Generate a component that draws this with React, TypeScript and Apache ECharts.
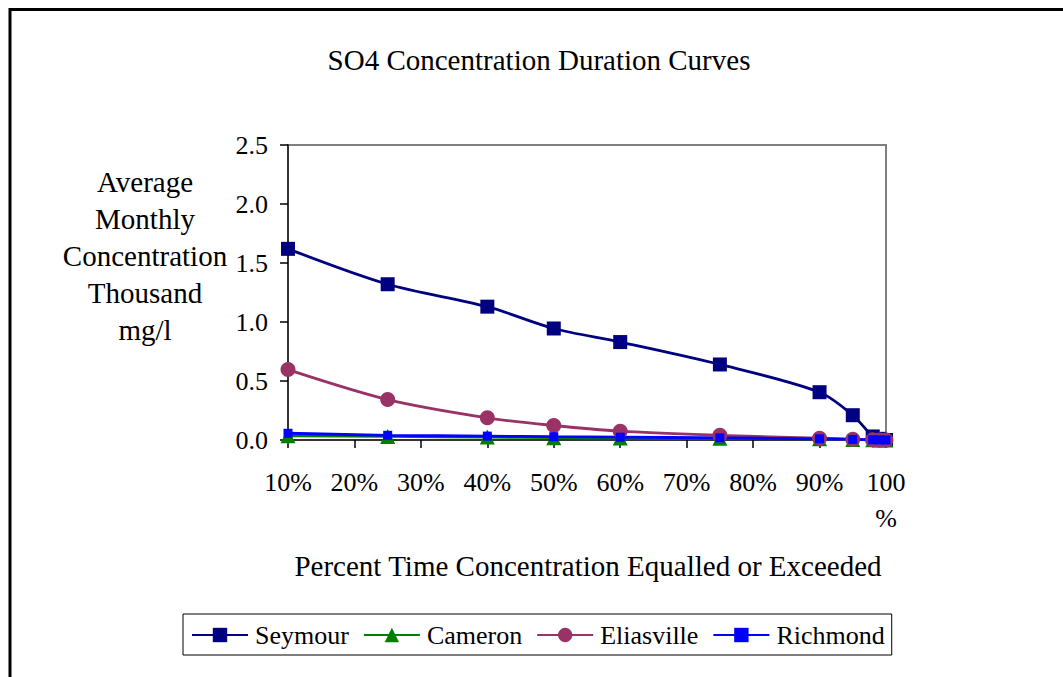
import React, { useEffect, useRef } from "react";
import * as echarts from "echarts";

const percentTime = [10, 25, 40, 50, 60, 75, 90, 95, 98, 99, 100];
const seymour = [1.62, 1.32, 1.13, 0.945, 0.83, 0.64, 0.405, 0.21, 0.03, 0.01, 0];
const cameron = [0.035, 0.03, 0.025, 0.02, 0.018, 0.015, 0.01, 0.005, 0.002, 0.001, 0];
const eliasville = [0.597, 0.343, 0.188, 0.123, 0.075, 0.04, 0.015, 0.006, 0.002, 0.001, 0];
const richmond = [0.057, 0.04, 0.033, 0.028, 0.024, 0.018, 0.01, 0.005, 0.002, 0.001, 0];

const titleText = "SO4 Concentration Duration Curves";
const yName = "Average\nMonthly\nConcentration\nThousand\nmg/l";
const xName = "Percent Time Concentration Equalled or Exceeded";

const FONT = "'Liberation Serif', 'Times New Roman', serif";

const pairs = (ys: number[]) => percentTime.map((x, i) => [x, ys[i]]);

export default function App() {
  const ref = useRef<HTMLDivElement>(null);
  useEffect(() => {
    if (!ref.current) return;
    const chart = echarts.init(ref.current, null, { renderer: "svg" });
    const mk = (name: string, data: number[], color: string, symbol: string, size: number) => ({
      name,
      type: "line",
      data: pairs(data),
      smooth: 0.3,
      symbol,
      symbolSize: size,
      clip: false,
      lineStyle: { color, width: 2.8 },
      itemStyle: { color, borderWidth: 0 },
      emphasis: { disabled: true },
    });
    chart.setOption({
      animation: false,
      backgroundColor: "#ffffff",
      textStyle: { fontFamily: FONT },
      grid: {
        left: 288,
        right: 1063 - 886,
        top: 145,
        bottom: 677 - 440,
        show: true,
        borderColor: "#808080",
        borderWidth: 2,
        backgroundColor: "transparent",
      },
      xAxis: {
        type: "value",
        min: 10,
        max: 100,
        interval: 10,
        axisLine: { show: true, lineStyle: { color: "#333", width: 2 } },
        axisTick: { show: true, length: 8, lineStyle: { color: "#000", width: 1.5 } },
        splitLine: { show: false },
        axisLabel: {
          margin: 24,
          fontFamily: FONT,
          fontSize: 26,
          lineHeight: 36,
          color: "#000",
          formatter: (v: number) => (v === 100 ? "100\n%" : v + "%"),
        },
      },
      yAxis: {
        type: "value",
        min: 0,
        max: 2.5,
        interval: 0.5,
        axisLine: { show: true, lineStyle: { color: "#333", width: 2 } },
        axisTick: { show: true, length: 8, lineStyle: { color: "#000", width: 1.5 } },
        splitLine: { show: false },
        axisLabel: {
          margin: 20,
          fontFamily: FONT,
          fontSize: 26,
          color: "#000",
          formatter: (v: number) => v.toFixed(1),
        },
      },
      legend: {
        left: 183,
        top: 614,
        orient: "horizontal",
        padding: [8, 7, 7, 8],
        itemGap: 14,
        itemWidth: 56,
        itemHeight: 18,
        borderColor: "#000",
        borderWidth: 1,
        backgroundColor: "#fff",
        textStyle: { fontFamily: FONT, fontSize: 26, color: "#000", padding: [0, 0, 0, 2] },
        data: ["Seymour", "Cameron", "Eliasville", "Richmond"],
      },
      graphic: [
        {
          type: "rect",
          shape: { x: 10, y: 9.5, width: 1200, height: 800 },
          style: { fill: "none", stroke: "#000", lineWidth: 3 },
          silent: true,
        },
        {
          type: "text",
          x: 539,
          y: 60,
          style: { text: titleText, font: `29px ${FONT}`, fill: "#000", textAlign: "center", textVerticalAlign: "middle" },
        },
        {
          type: "text",
          x: 145,
          y: 256,
          style: {
            text: yName,
            font: `29px ${FONT}`,
            lineHeight: 37,
            fill: "#000",
            textAlign: "center",
            textVerticalAlign: "middle",
          },
        },
        {
          type: "text",
          x: 588,
          y: 566,
          style: { text: xName, font: `29px ${FONT}`, fill: "#000", textAlign: "center", textVerticalAlign: "middle" },
        },
      ],
      series: [
        mk("Seymour", seymour, "#000080", "rect", 14),
        mk("Cameron", cameron, "#008000", "triangle", 15),
        mk("Eliasville", eliasville, "#993366", "circle", 15),
        mk("Richmond", richmond, "#0000FF", "rect", 9),
      ],
    });
    return () => chart.dispose();
  }, []);
  return (
    <div
      ref={ref}
      style={{ position: "absolute", left: 0, top: 0, width: 1063, height: 677, background: "#fff" }}
    />
  );
}
